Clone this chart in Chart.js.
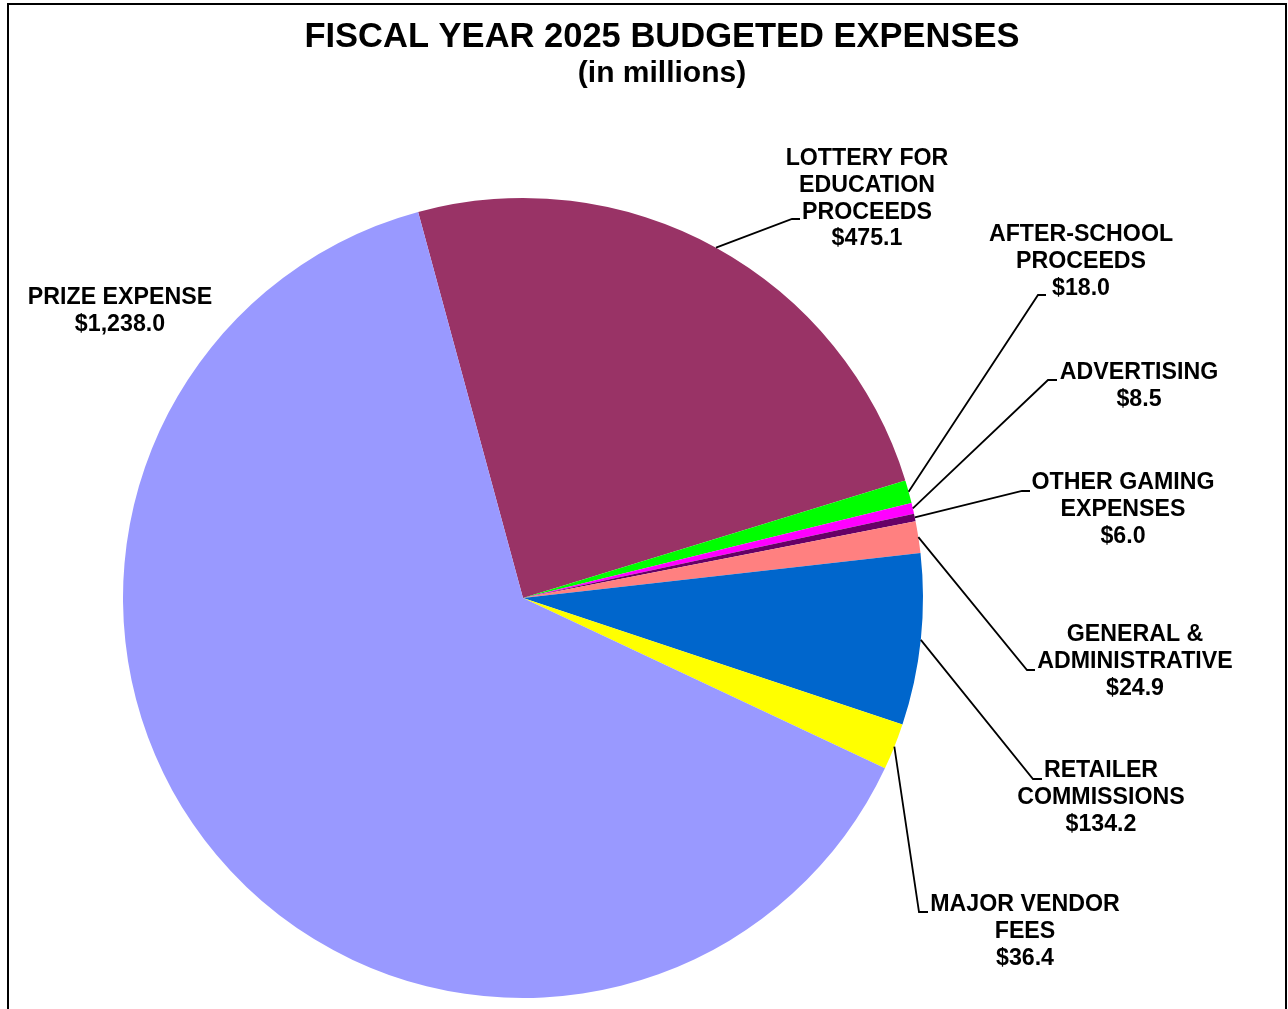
<!DOCTYPE html>
<html>
<head>
<meta charset="utf-8">
<title>Fiscal Year 2025 Budgeted Expenses</title>
<script src="https://cdn.jsdelivr.net/npm/chart.js@4/dist/chart.umd.min.js"></script>
<style>
  html, body { margin: 0; padding: 0; background: #ffffff; }
  #wrap { width: 1288px; height: 1009px; position: relative; }
  canvas { display: block; }
</style>
</head>
<body>
<div id="wrap"><canvas id="chart" width="1288" height="1009"></canvas></div>
<script>
// Budget categories, in drawing order (clockwise from the Prize/Lottery boundary)
const categories = [
  ['LOTTERY FOR', 'EDUCATION', 'PROCEEDS'],
  ['AFTER-SCHOOL', 'PROCEEDS'],
  ['ADVERTISING'],
  ['OTHER GAMING', 'EXPENSES'],
  ['GENERAL &', 'ADMINISTRATIVE'],
  ['RETAILER', 'COMMISSIONS'],
  ['MAJOR VENDOR', 'FEES'],
  ['PRIZE EXPENSE']
];

// Budgeted amounts, $ millions
const amounts = [475.1, 18.0, 8.5, 6.0, 24.9, 134.2, 36.4, 1238.0];

const sliceColors = ['#993366', '#00FF00', '#FF00FF', '#660066', '#FF8080', '#0066CC', '#FFFF00', '#9999FF'];

const titleText = 'FISCAL YEAR 2025 BUDGETED EXPENSES';
const subtitleText = '(in millions)';

// Label placement: text centre x, first line y, and leader-line elbow / end (null = no leader)
const labelLayout = [
  { cx: 867,  y: 159, elbow: [792, 219],  end: [800, 219] },
  { cx: 1081, y: 235, elbow: [1038, 295], end: [1046, 295] },
  { cx: 1139, y: 373, elbow: [1048, 380], end: [1057, 380] },
  { cx: 1123, y: 483, elbow: [1022, 491], end: [1030, 491] },
  { cx: 1135, y: 635, elbow: [1027, 670], end: [1035, 670] },
  { cx: 1101, y: 771, elbow: [1033, 779], end: [1042, 779] },
  { cx: 1025, y: 905, elbow: [919, 912],  end: [928, 912] },
  { cx: 120,  y: 298, elbow: null,        end: null }
];

const FONT = '"Liberation Sans", Arial, Helvetica, sans-serif';

function money(v) {
  return '$' + v.toLocaleString('en-US', { minimumFractionDigits: 1, maximumFractionDigits: 1 });
}

const labelPlugin = {
  id: 'budgetLabels',
  afterDraw(chart) {
    const ctx = chart.ctx;
    const meta = chart.getDatasetMeta(0);
    ctx.save();

    // outer frame
    ctx.strokeStyle = '#000000';
    ctx.lineWidth = 2;
    ctx.beginPath();
    ctx.moveTo(8, 1012);
    ctx.lineTo(8, 4);
    ctx.lineTo(1286, 4);
    ctx.lineTo(1286, 1012);
    ctx.stroke();

    // titles
    ctx.fillStyle = '#000000';
    ctx.textAlign = 'center';
    ctx.textBaseline = 'middle';
    ctx.font = 'bold 34.5px ' + FONT;
    ctx.fillText(titleText, 662, 37);
    ctx.font = 'bold 30px ' + FONT;
    ctx.fillText(subtitleText, 662, 74);

    // leader lines from the middle of each slice's outer edge
    ctx.lineWidth = 1.8;
    ctx.strokeStyle = '#000000';
    meta.data.forEach((arc, i) => {
      const lay = labelLayout[i];
      if (!lay.elbow) return;
      const p = arc.getProps(['x', 'y', 'startAngle', 'endAngle', 'outerRadius'], true);
      const mid = (p.startAngle + p.endAngle) / 2;
      const sx = p.x + Math.cos(mid) * p.outerRadius;
      const sy = p.y + Math.sin(mid) * p.outerRadius;
      ctx.beginPath();
      ctx.moveTo(sx, sy);
      ctx.lineTo(lay.elbow[0], lay.elbow[1]);
      ctx.lineTo(lay.end[0], lay.end[1]);
      ctx.stroke();
    });

    // category labels with values
    ctx.font = 'bold 23.2px ' + FONT;
    ctx.fillStyle = '#000000';
    const lineH = 26.7;
    categories.forEach((lines, i) => {
      const lay = labelLayout[i];
      const all = lines.concat([money(chart.data.datasets[0].data[i])]);
      all.forEach((t, k) => ctx.fillText(t, lay.cx, lay.y + k * lineH));
    });

    ctx.restore();
  }
};

new Chart(document.getElementById('chart'), {
  type: 'pie',
  data: {
    labels: categories.map(c => c.join(' ')),
    datasets: [{
      data: amounts,
      backgroundColor: sliceColors,
      borderWidth: 0,
      hoverOffset: 0,
      offset: 0
    }]
  },
  options: {
    responsive: false,
    animation: false,
    devicePixelRatio: 1,
    rotation: -15.2,
    layout: { padding: { left: 123, top: 198, right: 365, bottom: 11 } },
    plugins: {
      legend: { display: false },
      tooltip: { enabled: false },
      title: { display: false }
    }
  },
  plugins: [labelPlugin]
});
</script>
</body>
</html>
